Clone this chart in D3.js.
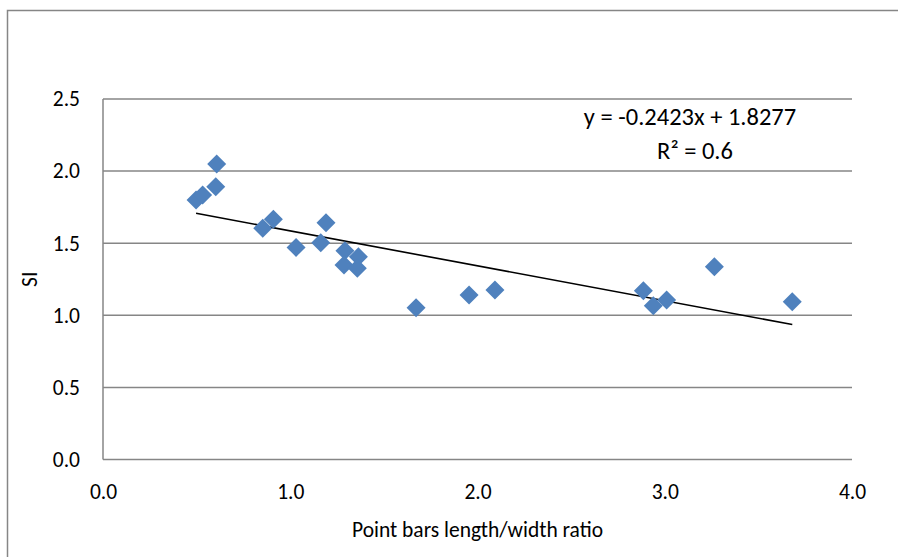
<!DOCTYPE html>
<html><head><meta charset="utf-8">
<script src="https://cdn.jsdelivr.net/npm/d3@7"></script>
<style>html,body{margin:0;padding:0;background:#fff;} svg{display:block;}</style>
</head><body>
<script>
const xValues = [0.497,0.532,0.607,0.602,0.853,0.91,1.031,1.191,1.163,1.292,1.364,1.287,1.358,1.672,1.955,2.093,2.886,2.939,3.01,3.265,3.681];
const yValues = [1.80,1.834,2.049,1.892,1.603,1.666,1.471,1.642,1.503,1.448,1.406,1.349,1.326,1.053,1.141,1.175,1.171,1.067,1.106,1.337,1.094];
const xTicks = [0,1,2,3,4];
const yTicks = [0,0.5,1,1.5,2,2.5];
const slope = -0.2423, intercept = 1.8277;
const eqLabel = "y = -0.2423x + 1.8277";
const r2Label = "R² = 0.6";
const xTitle = "Point bars length/width ratio";
const yTitle = "SI";

const W = 898, H = 557;
const font = "Carlito, Calibri, Lato, 'Open Sans', sans-serif";
const fs = 21.5;
const eqFs = 24.5;
const svg = d3.select("body").append("svg").attr("width", W).attr("height", H);
svg.append("rect").attr("x",7.5).attr("y",10.5).attr("width",W).attr("height",H)
  .attr("fill","#fff").attr("stroke","#868686").attr("stroke-width",1.5);

const x = d3.scaleLinear().domain([0,4]).range([103,852]);
const y = d3.scaleLinear().domain([0,2.5]).range([459.5,99]);

// gridlines
svg.append("g").selectAll("line").data(yTicks).join("line")
  .attr("x1",x(0)).attr("x2",x(4)).attr("y1",d=>y(d)).attr("y2",d=>y(d))
  .attr("stroke","#868686").attr("stroke-width",1.5);
// y axis line
svg.append("line").attr("x1",x(0)).attr("x2",x(0)).attr("y1",y(0)).attr("y2",y(2.5))
  .attr("stroke","#868686").attr("stroke-width",1.5);

const fmt = d3.format(".1f");
const yAxis = d3.axisLeft(y).tickValues(yTicks).tickFormat(fmt).tickSize(0).tickPadding(23);
const gy = svg.append("g").attr("transform",`translate(${x(0)},0)`).call(yAxis);
gy.select(".domain").remove();
gy.selectAll("text").attr("font-family",font).attr("font-size",fs).attr("fill","#000");

const xAxis = d3.axisBottom(x).tickValues(xTicks).tickFormat(fmt).tickSize(0).tickPadding(24);
const gx = svg.append("g").attr("transform",`translate(0,${y(0)})`).call(xAxis);
gx.select(".domain").remove();
gx.selectAll("text").attr("font-family",font).attr("font-size",fs).attr("fill","#000");

// trendline
const xmin = d3.min(xValues), xmax = d3.max(xValues);
svg.append("line").attr("x1",x(xmin)).attr("y1",y(slope*xmin+intercept))
  .attr("x2",x(xmax)).attr("y2",y(slope*xmax+intercept))
  .attr("stroke","#000").attr("stroke-width",1.6);

// points
const pts = xValues.map((v,i)=>({x:v,y:yValues[i]}));
const s = 9.5;
svg.append("g").selectAll("path").data(pts).join("path")
  .attr("d",`M0,${-s}L${s},0L0,${s}L${-s},0Z`)
  .attr("transform",d=>`translate(${x(d.x)},${y(d.y)})`)
  .attr("fill","#4F81BD");

// equation
svg.append("text").attr("x",690).attr("y",124.5).attr("text-anchor","middle")
  .attr("font-family",font).attr("font-size",eqFs).text(eqLabel);
svg.append("text").attr("x",695).attr("y",158.5).attr("text-anchor","middle")
  .attr("font-family",font).attr("font-size",eqFs).text(r2Label);

// titles
svg.append("text").attr("x",(x(0)+x(4))/2).attr("y",537).attr("text-anchor","middle")
  .attr("font-family",font).attr("font-size",fs).text(xTitle);
svg.append("text").attr("transform",`translate(37,${(y(0)+y(2.5))/2}) rotate(-90)`)
  .attr("text-anchor","middle").attr("font-family",font).attr("font-size",fs).text(yTitle);
</script>
</body></html>
